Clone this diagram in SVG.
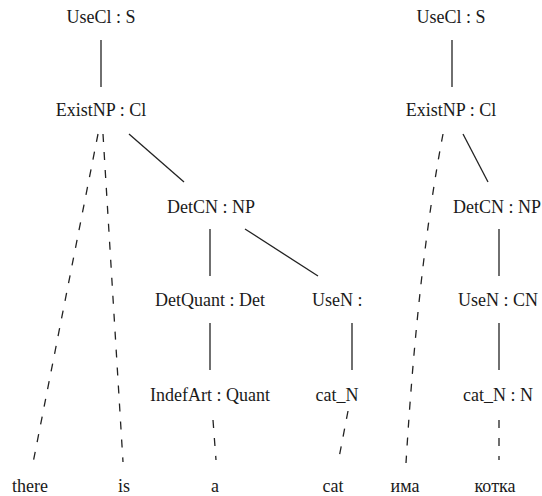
<svg xmlns="http://www.w3.org/2000/svg" width="542" height="496" viewBox="0 0 542 496">
  <style>
    .lbl { font-family: 'Liberation Serif', 'Times New Roman', 'DejaVu Serif', serif; font-size: 18px; fill: #1a1a1a; text-anchor: middle; }
    .edge { stroke: #222; stroke-width: 1.3; fill: none; }
    .dash { stroke-dasharray: 8 10; }
  </style>
  <rect width="542" height="496" fill="#fff"/>

  <!-- connectors -->
  <g id="connectors">
    <!-- English tree -->
    <line class="edge" x1="101" y1="40" x2="101" y2="87"/>
    <line class="edge dash" x1="98" y1="134" x2="33" y2="463"/>
    <line class="edge dash" x1="103" y1="134" x2="123" y2="462"/>
    <line class="edge" x1="129" y1="134" x2="184" y2="182"/>
    <line class="edge" x1="210" y1="229" x2="210" y2="276"/>
    <line class="edge" x1="245" y1="229" x2="318" y2="276"/>
    <line class="edge" x1="210" y1="323" x2="210" y2="370"/>
    <line class="edge" x1="352" y1="323" x2="352" y2="370"/>
    <line class="edge dash" x1="213" y1="420" x2="216" y2="460"/>
    <line class="edge dash" x1="348" y1="411" x2="338" y2="463"/>
    <!-- Bulgarian tree -->
    <line class="edge" x1="452" y1="40" x2="452" y2="87"/>
    <path class="edge dash" d="M443,134 Q418,265 406,463"/>
    <line class="edge" x1="463" y1="134" x2="488" y2="182"/>
    <line class="edge" x1="499" y1="229" x2="499" y2="276"/>
    <line class="edge" x1="499" y1="323" x2="499" y2="370"/>
    <line class="edge dash" x1="499" y1="420" x2="499" y2="460"/>
  </g>

  <g font-family="Liberation Serif, Times New Roman, serif" font-size="18">
    <!-- English tree nodes -->
    <g id="en-usecl"><text class="lbl" x="101" y="23">UseCl : S</text></g>
    <g id="en-existnp"><text class="lbl" x="101" y="116">ExistNP : Cl</text></g>
    <g id="en-detcn"><text class="lbl" x="211" y="213">DetCN : NP</text></g>
    <g id="en-detquant"><text class="lbl" x="210" y="306">DetQuant : Det</text></g>
    <g id="en-usen"><text class="lbl" x="312" y="306" style="text-anchor:start">UseN :</text></g>
    <g id="en-indefart"><text class="lbl" x="210" y="401">IndefArt : Quant</text></g>
    <g id="en-catn"><text class="lbl" x="337" y="401">cat_N</text></g>
    <g id="en-there"><text class="lbl" x="30" y="492">there</text></g>
    <g id="en-is"><text class="lbl" x="124" y="492">is</text></g>
    <g id="en-a"><text class="lbl" x="215" y="492">a</text></g>
    <g id="en-cat"><text class="lbl" x="333" y="492">cat</text></g>

    <!-- Bulgarian tree nodes -->
    <g id="bg-usecl"><text class="lbl" x="451" y="23">UseCl : S</text></g>
    <g id="bg-existnp"><text class="lbl" x="451" y="116">ExistNP : Cl</text></g>
    <g id="bg-detcn"><text class="lbl" x="453" y="213" style="text-anchor:start">DetCN : NP</text></g>
    <g id="bg-usen"><text class="lbl" x="498" y="306">UseN : CN</text></g>
    <g id="bg-catn"><text class="lbl" x="498" y="401">cat_N : N</text></g>
    <g id="bg-ima"><text class="lbl" x="405" y="492">има</text></g>
    <g id="bg-kotka"><text class="lbl" x="495" y="492">котка</text></g>
  </g>
</svg>
